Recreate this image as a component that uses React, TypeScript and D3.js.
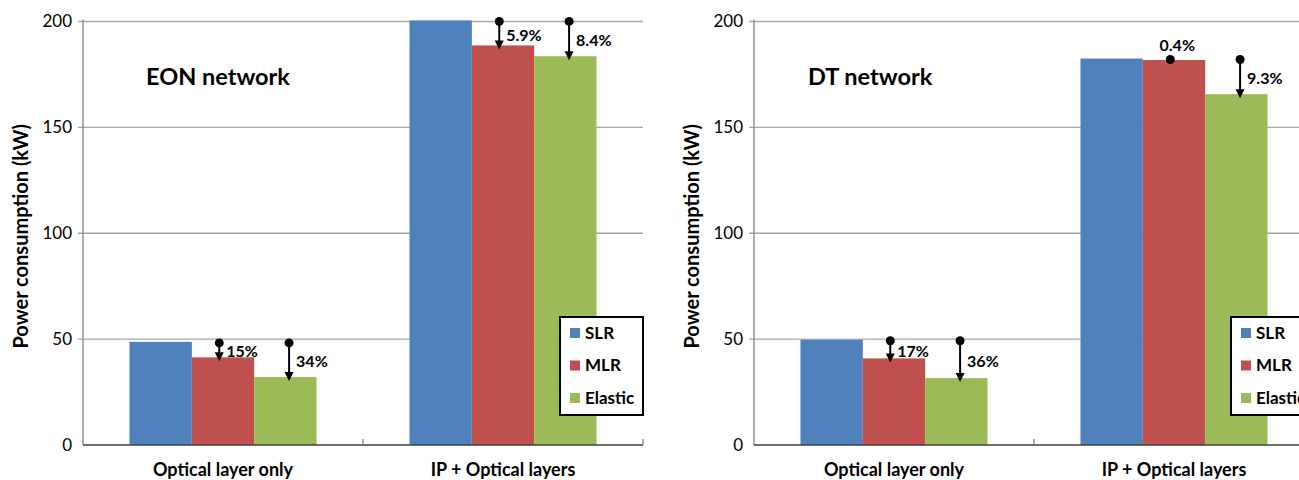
import React from 'react';
import * as d3 from 'd3';

// categories and series
const categories = ['Optical layer only', 'IP + Optical layers'];
const seriesNames = ['SLR', 'MLR', 'Elastic'];
const seriesColors = ['#4F81BD', '#C0504D', '#9BBB59'];
const yTicks = [0, 50, 100, 150, 200];

// EON network (kW)
const eonSLR = [48.7, 200.5];
const eonMLR = [41.4, 188.7];
const eonElastic = [32.1, 183.6];
const eonMlrSaving = ['15%', '5.9%'];
const eonElasticSaving = ['34%', '8.4%'];

// DT network (kW)
const dtSLR = [49.7, 182.5];
const dtMLR = [40.9, 181.8];
const dtElastic = [31.6, 165.7];
const dtMlrSaving = ['17%', '0.4%'];
const dtElasticSaving = ['36%', '9.3%'];

const FONT = 'Lato, "Open Sans", sans-serif';

interface PanelProps {
  x0: number;
  title: string;
  titleX: number;
  slr: number[];
  mlr: number[];
  elastic: number[];
  mlrSaving: string[];
  elasticSaving: string[];
}

const Panel: React.FC<PanelProps> = ({ x0, title, titleX, slr, mlr, elastic, mlrSaving, elasticSaving }) => {
  const plotW = 560;
  const top = 21.5;
  const bottom = 445;

  const y = d3.scaleLinear().domain([0, 200]).range([bottom, top]);
  const x = d3.scaleBand<string>()
    .domain(categories)
    .range([x0, x0 + plotW])
    .paddingInner(0.332)
    .paddingOuter(0.166);
  const xs = d3.scaleBand<string>().domain(seriesNames).range([0, x.bandwidth()]);

  const values = [slr, mlr, elastic];

  // arrows go from SLR level down to the other bar
  const annotations = categories.flatMap((c, i) => [
    { cat: c, series: 'MLR', from: slr[i], to: mlr[i], label: mlrSaving[i], frac: 0.44 },
    { cat: c, series: 'Elastic', from: slr[i], to: elastic[i], label: elasticSaving[i], frac: 0.56 },
  ]);

  const legendX = x0 + plotW - 83;
  const legendY = 317;

  return (
    <g>
      {/* grid */}
      {yTicks.filter(t => t > 0).map(t => (
        <line key={`g-${t}`} x1={x0 - 5} x2={x0 + plotW} y1={y(t)} y2={y(t)} stroke="#A6A6A6" strokeWidth={1.3} />
      ))}
      {yTicks.map(t => (
        <text key={`t-${t}`} x={x0 - 11} y={y(t)} dy="0.35em" textAnchor="end" fontSize={17} fontFamily={FONT} fill="#000">
          {t}
        </text>
      ))}

      {/* bars */}
      {categories.map((c, i) => (
        <g key={c}>
          {seriesNames.map((s, j) => (
            <rect
              key={s}
              x={(x(c) ?? 0) + (xs(s) ?? 0)}
              y={y(values[j][i])}
              width={xs.bandwidth()}
              height={bottom - y(values[j][i])}
              fill={seriesColors[j]}
            />
          ))}
        </g>
      ))}

      {/* axes */}
      <line x1={x0} x2={x0} y1={top - 2} y2={bottom} stroke="#808080" strokeWidth={1.3} />
      <line x1={x0} x2={x0 + plotW} y1={bottom} y2={bottom} stroke="#404040" strokeWidth={1.6} />
      {[x0 + plotW / 2, x0 + plotW].map(tx => (
        <line key={tx} x1={tx} x2={tx} y1={bottom - 6} y2={bottom} stroke="#808080" strokeWidth={1.3} />
      ))}
      {categories.map(c => (
        <text key={`c-${c}`} x={(x(c) ?? 0) + x.bandwidth() / 2} y={476} textAnchor="middle" fontSize={18} fontWeight="bold" fontFamily={FONT}>
          {c}
        </text>
      ))}

      {/* y label */}
      <text
        transform={`translate(${x0 - 55},${(top + bottom) / 2 + 3}) rotate(-90)`}
        textAnchor="middle"
        fontSize={20}
        fontWeight="bold"
        fontFamily={FONT}
      >
        Power consumption (kW)
      </text>

      <text x={titleX} y={85} fontSize={23.5} fontWeight="bold" fontFamily={FONT}>{title}</text>

      {/* savings arrows */}
      {annotations.map((a, k) => {
        const ax = (x(a.cat) ?? 0) + (xs(a.series) ?? 0) + xs.bandwidth() * a.frac;
        const y1 = y(a.from) + 1;
        const y2 = y(a.to) + 3;
        const short = y2 - y1 < 12;
        return (
          <g key={`a-${k}`}>
            {!short && (
              <>
                <line x1={ax} x2={ax} y1={y1} y2={y2 - 7} stroke="#000" strokeWidth={2} />
                <path d={`M${ax - 4.5},${y2 - 8}L${ax + 4.5},${y2 - 8}L${ax},${y2 + 1}Z`} fill="#000" />
              </>
            )}
            <circle cx={ax} cy={y1} r={4.5} fill="#000" />
            {short ? (
              <text x={ax + 7} y={y1 - 14} dy="0.35em" textAnchor="middle" fontSize={16} fontWeight="bold" fontFamily={FONT}>{a.label}</text>
            ) : (
              <text x={ax + 7} y={(y1 + y2) / 2} dy="0.35em" fontSize={16} fontWeight="bold" fontFamily={FONT}>{a.label}</text>
            )}
          </g>
        );
      })}

      {/* legend */}
      <rect x={legendX} y={legendY} width={83} height={98} fill="#fff" stroke="#000" strokeWidth={2} />
      {seriesNames.map((s, j) => (
        <g key={`l-${s}`} transform={`translate(${legendX + 10},${legendY + 16 + j * 32.5})`}>
          <rect x={0} y={-5} width={10} height={10} fill={seriesColors[j]} />
          <text x={15} y={0} dy="0.35em" fontSize={17} fontWeight="bold" fontFamily={FONT}>{s}</text>
        </g>
      ))}
    </g>
  );
};

export default function App() {
  return (
    <div style={{ position: 'absolute', left: 0, top: 0 }}>
      <svg width={1299} height={480} style={{ display: 'block', background: '#fff' }}>
        <Panel x0={83} title="EON network" titleX={146} slr={eonSLR} mlr={eonMLR} elastic={eonElastic} mlrSaving={eonMlrSaving} elasticSaving={eonElasticSaving} />
        <Panel x0={754} title="DT network" titleX={808} slr={dtSLR} mlr={dtMLR} elastic={dtElastic} mlrSaving={dtMlrSaving} elasticSaving={dtElasticSaving} />
      </svg>
    </div>
  );
}
